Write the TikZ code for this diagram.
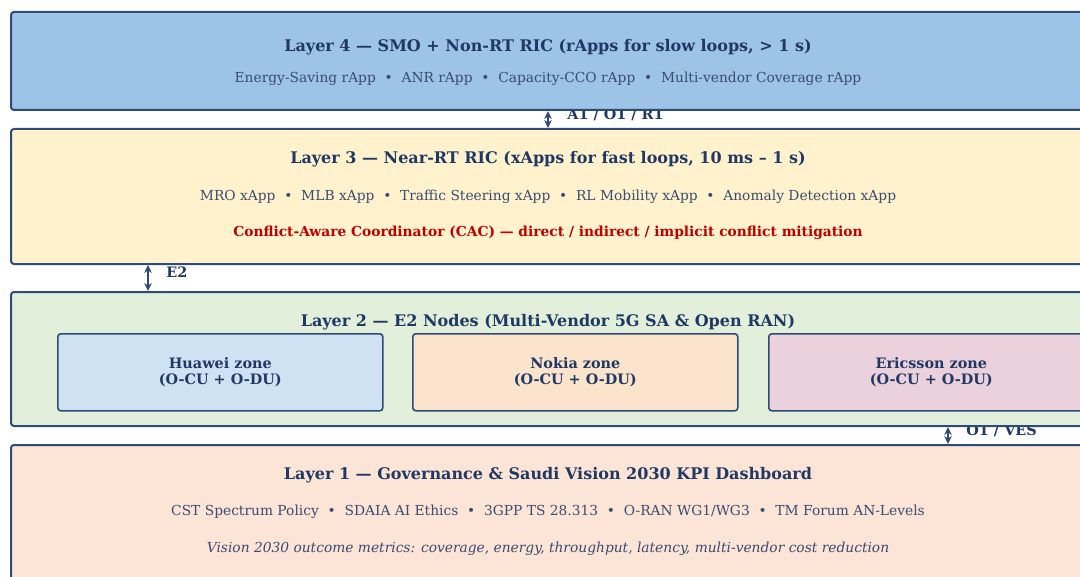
\documentclass[tikz,border=0pt]{standalone}
\usepackage{fontspec}
\setmainfont{DejaVu Serif}
\usepackage{xcolor}
\usetikzlibrary{arrows.meta,backgrounds}

\definecolor{edge}{HTML}{2E4A78}
\definecolor{navy}{HTML}{203864}
\definecolor{subtxt}{HTML}{3A4C70}
\definecolor{cacred}{HTML}{C00000}
\definecolor{smofill}{HTML}{9DC3E6}
\definecolor{ricfill}{HTML}{FFF2CC}
\definecolor{nodefill}{HTML}{E2EFDA}
\definecolor{govfill}{HTML}{FCE4D6}
\definecolor{hwfill}{HTML}{CFE2F3}
\definecolor{nkfill}{HTML}{FCE4CC}
\definecolor{erfill}{HTML}{EAD1DC}

\begin{document}
\begin{tikzpicture}[
  x=0.5pt, y=-0.5pt,
  layer/.style={draw=edge, line width=1pt, rounded corners=1.5pt, anchor=north west,
    minimum width=565pt, inner sep=0pt},
  zone/.style={draw=edge, line width=0.8pt, rounded corners=1.5pt, anchor=north west,
    minimum width=162.5pt, minimum height=38.5pt, align=center, text=navy,
    font=\fontsize{7.2}{8}\selectfont\bfseries},
  title/.style={text=navy, font=\fontsize{8}{9}\selectfont\bfseries},
  items/.style={text=subtxt, font=\fontsize{6.9}{8}\selectfont},
  iface/.style={text=navy, anchor=west, inner sep=0pt, font=\fontsize{7.2}{8}\selectfont\bfseries},
  link/.style={{Stealth[length=4pt,width=3.8pt]}-{Stealth[length=4pt,width=3.8pt]},
    draw=edge, line width=0.75pt}
]
\useasboundingbox (0,0) rectangle (1080,577);
\clip (0,0) rectangle (1080,577);

% layers
\node[layer, fill=smofill, minimum height=49pt] (l4) at (10,11) {};
\node[layer, fill=ricfill, minimum height=67.5pt] (l3) at (10,128) {};
\node[layer, fill=nodefill, minimum height=67pt] (l2) at (10,291) {};
\node[layer, fill=govfill, minimum height=80pt] (l1) at (10,444) {};

% layer 4
\node[title] (l4t) at (548,47) {Layer 4 — SMO + Non-RT RIC (rApps for slow loops, > 1 s)};
\node[items] (l4s) at (548,79) {Energy-Saving rApp \ • \ ANR rApp \ • \ Capacity-CCO rApp \ • \ Multi-vendor Coverage rApp};

% layer 3
\node[title] (l3t) at (548,159.5) {Layer 3 — Near-RT RIC (xApps for fast loops, 10 ms – 1 s)};
\node[items] (l3s) at (548,197) {MRO xApp \ • \ MLB xApp \ • \ Traffic Steering xApp \ • \ RL Mobility xApp \ • \ Anomaly Detection xApp};
\node[items, text=cacred, font=\fontsize{6.9}{8}\selectfont\bfseries] (cac) at (548,233) {Conflict-Aware Coordinator (CAC) — direct / indirect / implicit conflict mitigation};

% layer 2
\node[title] (l2t) at (548,322.5) {Layer 2 — E2 Nodes (Multi-Vendor 5G SA \& Open RAN)};
\node[zone, fill=hwfill] (hw) at (57,333) {Huawei zone\\(O-CU + O-DU)};
\node[zone, fill=nkfill] (nk) at (412,333) {Nokia zone\\(O-CU + O-DU)};
\node[zone, fill=erfill] (er) at (768,333) {Ericsson zone\\(O-CU + O-DU)};

% layer 1
\node[title] (l1t) at (548,475.5) {Layer 1 — Governance \& Saudi Vision 2030 KPI Dashboard};
\node[items] (l1s) at (548,512) {CST Spectrum Policy \ • \ SDAIA AI Ethics \ • \ 3GPP TS 28.313 \ • \ O-RAN WG1/WG3 \ • \ TM Forum AN-Levels};
\node[items, font=\fontsize{6.9}{8}\selectfont\itshape] (kpi) at (548,549) {Vision 2030 outcome metrics: coverage, energy, throughput, latency, multi-vendor cost reduction};

% interfaces
\coordinate (a1) at (548,0);
\coordinate (e2) at (148,0);
\coordinate (o1) at (948,0);
\draw[link] (l4.south -| a1) -- (l3.north -| a1);
\draw[link] (l3.south -| e2) -- (l2.north -| e2);
\draw[link] (l2.south -| o1) -- (l1.north -| o1);
\begin{pgfonlayer}{background}
\node[iface] (a1t) at (567,115) {A1 / O1 / R1};
\node[iface] (o1t) at (966,431) {O1 / VES};
\end{pgfonlayer}
\node[iface] (e2t) at (166,272) {E2};
\end{tikzpicture}
\end{document}
